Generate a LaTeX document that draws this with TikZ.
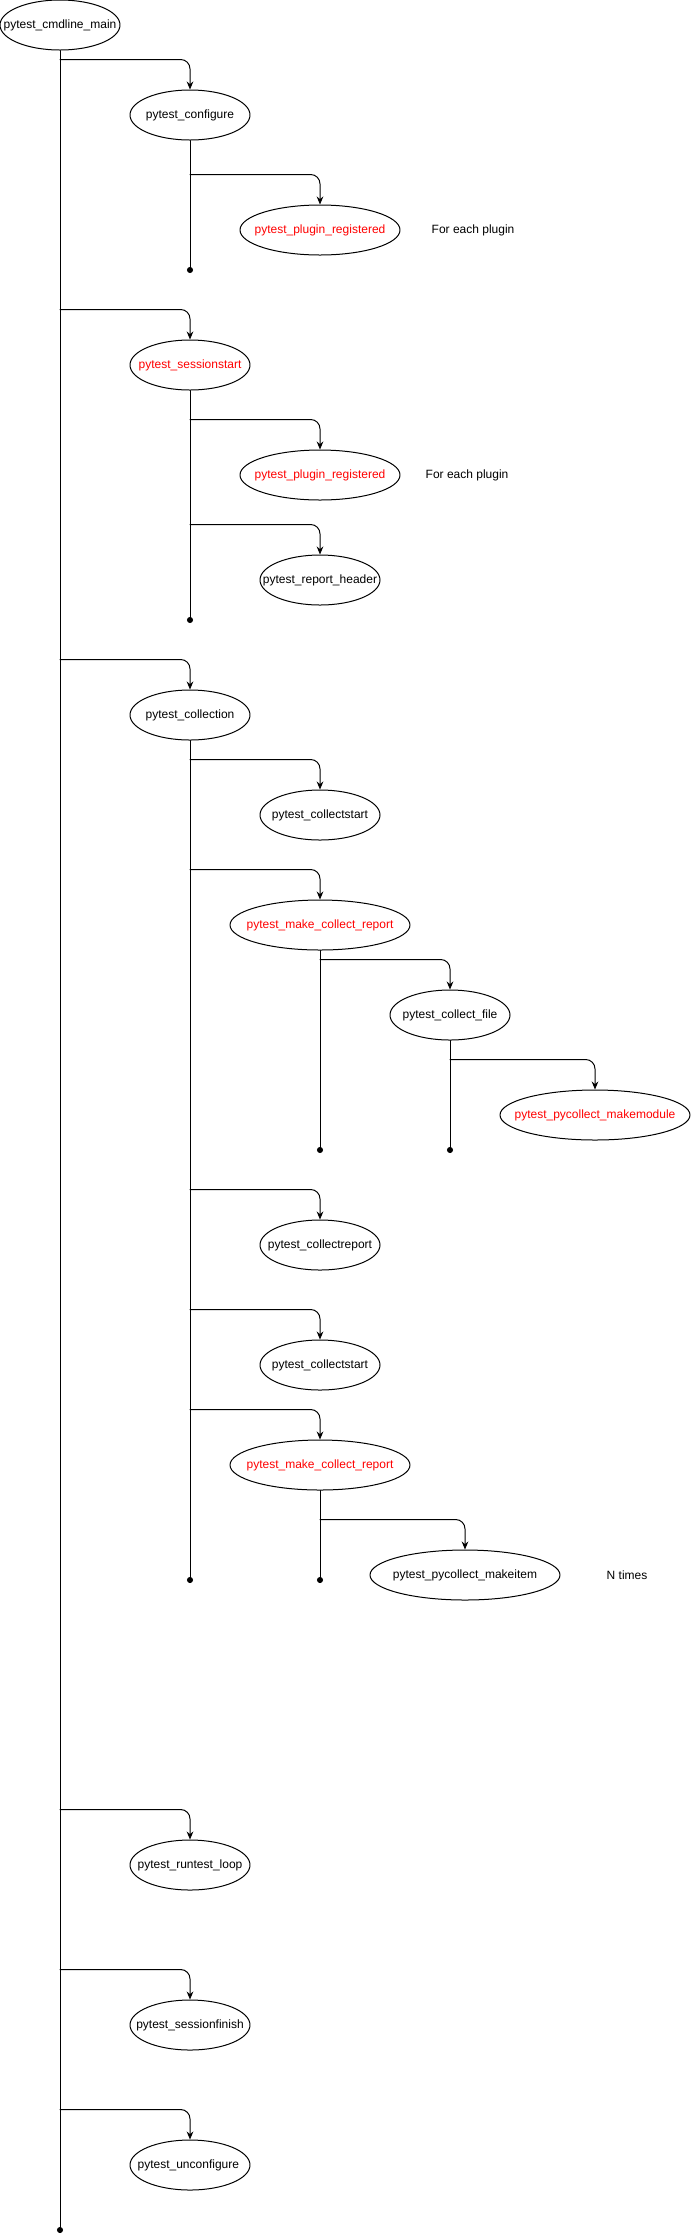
\documentclass[tikz,border=0pt]{standalone}
\usepackage{fontspec}
\setmainfont{Liberation Sans}
\usepackage{mathtools}
\usepackage{tikz}
\usetikzlibrary{arrows.meta,positioning,shapes.geometric}
\tikzset{
  every picture/.append style={line cap=round,line join=round},
  hook node/.style={ellipse,draw,line width=0.75pt,inner sep=0pt,minimum height=37.5pt,font=\fontsize{9}{11}\selectfont},
  hook note/.style={font=\fontsize{9}{11}\selectfont,anchor=west},
  hook branch/.style={line width=0.75pt,rounded corners=7pt,-{Stealth[length=6pt,width=5pt]}},
  hook trunk/.style={line width=0.75pt,-{Circle[length=4.5pt]}}
}

\begin{document}
\begin{tikzpicture}[x=0.75pt,y=-0.75pt]
\useasboundingbox (0,0) rectangle (691,2239);
\foreach \n/\x/\y/\w/\c/\lab in {
  cmd/60/25/90/black/{pytest\_cmdline\_main},
  conf/190/115/90/black/{pytest\_configure},
  plug1/320/230/120/red/{pytest\_plugin\_registered},
  sess/190/365/90/red/{pytest\_sessionstart},
  plug2/320/475/120/red/{pytest\_plugin\_registered},
  hdr/320/580/90/black/{pytest\_report\_header},
  coll/190/715/90/black/{pytest\_collection},
  cstart/320/815/90/black/{pytest\_collectstart},
  mcr/320/925/135/red/{pytest\_make\_collect\_report},
  cfile/450/1015/90/black/{pytest\_collect\_file},
  pymod/595/1115/142.5/red/{pytest\_pycollect\_makemodule},
  crep/320/1245/90/black/{pytest\_collectreport},
  cstartb/320/1365/90/black/{pytest\_collectstart},
  mcrb/320/1465/135/red/{pytest\_make\_collect\_report},
  pyitem/465/1575/142.5/black/{pytest\_pycollect\_makeitem},
  runloop/190/1865/90/black/{pytest\_runtest\_loop},
  sfin/190/2025/90/black/{pytest\_sessionfinish},
  unconf/190/2165/90/black/{pytest\_unconfigure}
}{
  \node[hook node,minimum width=\w pt,text=\c] (\n) at (\x,\y) {\clap{\lab}};
}
\node[hook note] (note1) at (427,230) {For each plugin};
\node[hook note] (note2) at (421,475) {For each plugin};
\node[hook note] (note3) at (602,1575) {N times};

% ends of the call lines
\coordinate (cmd-end) at (60,2233);
\coordinate (conf-end) at (190,273);
\coordinate (sess-end) at (190,623);
\coordinate (coll-end) at (190,1583);
\coordinate (mcr-end) at (320,1153);
\coordinate (cfile-end) at (450,1153);
\coordinate (mcrb-end) at (320,1583);
\foreach \p in {cmd,conf,sess,coll,mcr,cfile,mcrb}
  \draw[hook trunk] (\p.south) -- (\p-end);

\foreach \p/\c in {cmd/conf,conf/plug1,cmd/sess,sess/plug2,sess/hdr,cmd/coll,
  coll/cstart,coll/mcr,mcr/cfile,cfile/pymod,coll/crep,coll/cstartb,coll/mcrb,
  mcrb/pyitem,cmd/runloop,cmd/sfin,cmd/unconf}
  \draw[hook branch] ([yshift=22.5pt]\c.north -| \p.south) -| (\c.north);
\end{tikzpicture}
\end{document}
